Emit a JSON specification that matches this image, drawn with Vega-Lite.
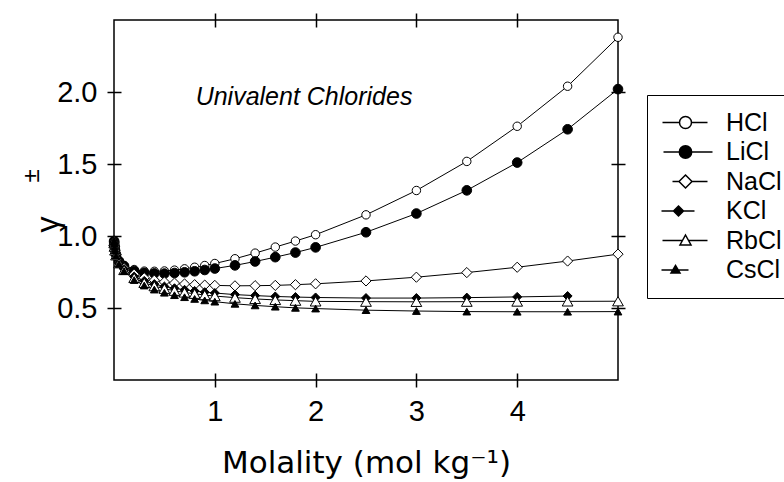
{
  "$schema": "https://vega.github.io/schema/vega-lite/v6.json",
  "autosize": {"type": "none"},
  "padding": {"left": 114, "top": 20, "right": 166, "bottom": 102},
  "width": 504,
  "height": 360,
  "background": "white",
  "config": {
    "view": {"stroke": "black", "strokeWidth": 1.5},
    "axis": {"grid": false, "domain": false, "tickColor": "black", "tickWidth": 1.5, "tickSize": 14, "offset": -7, "labelColor": "black", "titleColor": "black"}
  },
  "datasets": {
    "gamma": [
      {"s":"HCl","m":0.001,"g":0.966},{"s":"HCl","m":0.002,"g":0.952},{"s":"HCl","m":0.005,"g":0.929},{"s":"HCl","m":0.01,"g":0.905},{"s":"HCl","m":0.02,"g":0.876},{"s":"HCl","m":0.05,"g":0.830},{"s":"HCl","m":0.1,"g":0.796},{"s":"HCl","m":0.2,"g":0.767},{"s":"HCl","m":0.3,"g":0.756},{"s":"HCl","m":0.4,"g":0.755},{"s":"HCl","m":0.5,"g":0.757},{"s":"HCl","m":0.6,"g":0.763},{"s":"HCl","m":0.7,"g":0.772},{"s":"HCl","m":0.8,"g":0.783},{"s":"HCl","m":0.9,"g":0.795},{"s":"HCl","m":1.0,"g":0.809},{"s":"HCl","m":1.2,"g":0.842},{"s":"HCl","m":1.4,"g":0.881},{"s":"HCl","m":1.6,"g":0.923},{"s":"HCl","m":1.8,"g":0.965},{"s":"HCl","m":2.0,"g":1.009},{"s":"HCl","m":2.5,"g":1.147},{"s":"HCl","m":3.0,"g":1.316},{"s":"HCl","m":3.5,"g":1.518},{"s":"HCl","m":4.0,"g":1.762},{"s":"HCl","m":4.5,"g":2.04},{"s":"HCl","m":5.0,"g":2.38},
      {"s":"LiCl","m":0.001,"g":0.965},{"s":"LiCl","m":0.002,"g":0.951},{"s":"LiCl","m":0.005,"g":0.927},{"s":"LiCl","m":0.01,"g":0.902},{"s":"LiCl","m":0.02,"g":0.870},{"s":"LiCl","m":0.05,"g":0.824},{"s":"LiCl","m":0.1,"g":0.790},{"s":"LiCl","m":0.2,"g":0.757},{"s":"LiCl","m":0.3,"g":0.744},{"s":"LiCl","m":0.4,"g":0.740},{"s":"LiCl","m":0.5,"g":0.739},{"s":"LiCl","m":0.6,"g":0.743},{"s":"LiCl","m":0.7,"g":0.748},{"s":"LiCl","m":0.8,"g":0.755},{"s":"LiCl","m":0.9,"g":0.764},{"s":"LiCl","m":1.0,"g":0.774},{"s":"LiCl","m":1.2,"g":0.796},{"s":"LiCl","m":1.4,"g":0.823},{"s":"LiCl","m":1.6,"g":0.853},{"s":"LiCl","m":1.8,"g":0.885},{"s":"LiCl","m":2.0,"g":0.921},{"s":"LiCl","m":2.5,"g":1.026},{"s":"LiCl","m":3.0,"g":1.156},{"s":"LiCl","m":3.5,"g":1.317},{"s":"LiCl","m":4.0,"g":1.510},{"s":"LiCl","m":4.5,"g":1.741},{"s":"LiCl","m":5.0,"g":2.02},
      {"s":"NaCl","m":0.001,"g":0.965},{"s":"NaCl","m":0.002,"g":0.952},{"s":"NaCl","m":0.005,"g":0.927},{"s":"NaCl","m":0.01,"g":0.902},{"s":"NaCl","m":0.02,"g":0.871},{"s":"NaCl","m":0.05,"g":0.819},{"s":"NaCl","m":0.1,"g":0.778},{"s":"NaCl","m":0.2,"g":0.735},{"s":"NaCl","m":0.3,"g":0.710},{"s":"NaCl","m":0.4,"g":0.693},{"s":"NaCl","m":0.5,"g":0.681},{"s":"NaCl","m":0.6,"g":0.673},{"s":"NaCl","m":0.7,"g":0.667},{"s":"NaCl","m":0.8,"g":0.662},{"s":"NaCl","m":0.9,"g":0.659},{"s":"NaCl","m":1.0,"g":0.657},{"s":"NaCl","m":1.2,"g":0.654},{"s":"NaCl","m":1.4,"g":0.655},{"s":"NaCl","m":1.6,"g":0.657},{"s":"NaCl","m":1.8,"g":0.662},{"s":"NaCl","m":2.0,"g":0.668},{"s":"NaCl","m":2.5,"g":0.688},{"s":"NaCl","m":3.0,"g":0.714},{"s":"NaCl","m":3.5,"g":0.746},{"s":"NaCl","m":4.0,"g":0.783},{"s":"NaCl","m":4.5,"g":0.826},{"s":"NaCl","m":5.0,"g":0.874},
      {"s":"KCl","m":0.001,"g":0.965},{"s":"KCl","m":0.002,"g":0.951},{"s":"KCl","m":0.005,"g":0.927},{"s":"KCl","m":0.01,"g":0.901},{"s":"KCl","m":0.02,"g":0.868},{"s":"KCl","m":0.05,"g":0.815},{"s":"KCl","m":0.1,"g":0.770},{"s":"KCl","m":0.2,"g":0.718},{"s":"KCl","m":0.3,"g":0.688},{"s":"KCl","m":0.4,"g":0.666},{"s":"KCl","m":0.5,"g":0.649},{"s":"KCl","m":0.6,"g":0.637},{"s":"KCl","m":0.7,"g":0.626},{"s":"KCl","m":0.8,"g":0.618},{"s":"KCl","m":0.9,"g":0.610},{"s":"KCl","m":1.0,"g":0.604},{"s":"KCl","m":1.2,"g":0.593},{"s":"KCl","m":1.4,"g":0.586},{"s":"KCl","m":1.6,"g":0.580},{"s":"KCl","m":1.8,"g":0.576},{"s":"KCl","m":2.0,"g":0.573},{"s":"KCl","m":2.5,"g":0.569},{"s":"KCl","m":3.0,"g":0.569},{"s":"KCl","m":3.5,"g":0.572},{"s":"KCl","m":4.0,"g":0.577},{"s":"KCl","m":4.5,"g":0.583},
      {"s":"RbCl","m":0.001,"g":0.965},{"s":"RbCl","m":0.002,"g":0.951},{"s":"RbCl","m":0.005,"g":0.926},{"s":"RbCl","m":0.01,"g":0.900},{"s":"RbCl","m":0.02,"g":0.866},{"s":"RbCl","m":0.05,"g":0.811},{"s":"RbCl","m":0.1,"g":0.764},{"s":"RbCl","m":0.2,"g":0.709},{"s":"RbCl","m":0.3,"g":0.675},{"s":"RbCl","m":0.4,"g":0.652},{"s":"RbCl","m":0.5,"g":0.634},{"s":"RbCl","m":0.6,"g":0.620},{"s":"RbCl","m":0.7,"g":0.608},{"s":"RbCl","m":0.8,"g":0.599},{"s":"RbCl","m":0.9,"g":0.590},{"s":"RbCl","m":1.0,"g":0.583},{"s":"RbCl","m":1.2,"g":0.572},{"s":"RbCl","m":1.4,"g":0.563},{"s":"RbCl","m":1.6,"g":0.556},{"s":"RbCl","m":1.8,"g":0.551},{"s":"RbCl","m":2.0,"g":0.546},{"s":"RbCl","m":2.5,"g":0.544},{"s":"RbCl","m":3.0,"g":0.543},{"s":"RbCl","m":3.5,"g":0.544},{"s":"RbCl","m":4.0,"g":0.545},{"s":"RbCl","m":4.5,"g":0.546},{"s":"RbCl","m":5.0,"g":0.547},
      {"s":"CsCl","m":0.001,"g":0.965},{"s":"CsCl","m":0.002,"g":0.950},{"s":"CsCl","m":0.005,"g":0.925},{"s":"CsCl","m":0.01,"g":0.899},{"s":"CsCl","m":0.02,"g":0.863},{"s":"CsCl","m":0.05,"g":0.806},{"s":"CsCl","m":0.1,"g":0.756},{"s":"CsCl","m":0.2,"g":0.694},{"s":"CsCl","m":0.3,"g":0.656},{"s":"CsCl","m":0.4,"g":0.628},{"s":"CsCl","m":0.5,"g":0.606},{"s":"CsCl","m":0.6,"g":0.589},{"s":"CsCl","m":0.7,"g":0.575},{"s":"CsCl","m":0.8,"g":0.563},{"s":"CsCl","m":0.9,"g":0.553},{"s":"CsCl","m":1.0,"g":0.544},{"s":"CsCl","m":1.2,"g":0.529},{"s":"CsCl","m":1.4,"g":0.518},{"s":"CsCl","m":1.6,"g":0.509},{"s":"CsCl","m":1.8,"g":0.501},{"s":"CsCl","m":2.0,"g":0.496},{"s":"CsCl","m":2.5,"g":0.485},{"s":"CsCl","m":3.0,"g":0.479},{"s":"CsCl","m":3.5,"g":0.475},{"s":"CsCl","m":4.0,"g":0.474},{"s":"CsCl","m":4.5,"g":0.474},{"s":"CsCl","m":5.0,"g":0.475}
    ],
    "note": [{"label": "Univalent Chlorides"}]
  },
  "layer": [
    {
      "data": {"name": "gamma"},
      "mark": {"type": "line", "color": "black", "strokeWidth": 1},
      "encoding": {
        "x": {"field": "m", "type": "quantitative", "scale": {"domain": [0, 5], "nice": false, "zero": false},
          "axis": {"orient": "bottom", "values": [1, 2, 3, 4], "format": "d", "labelFont": "Liberation Sans", "labelFontSize": 29, "labelPadding": 10,
            "title": "Molality (mol kg⁻¹)", "titleFont": "DejaVu Sans", "titleFontSize": 31, "titleFontWeight": "normal", "titlePadding": 22}},
        "y": {"field": "g", "type": "quantitative", "scale": {"domain": [0, 2.5], "nice": false, "zero": false},
          "axis": {"orient": "left", "values": [0.5, 1.0, 1.5, 2.0], "format": ".1f", "labelFont": "Liberation Sans", "labelFontSize": 29, "labelPadding": 10,
            "title": "γ", "titleFont": "Liberation Sans", "titleFontSize": 32, "titleFontWeight": "normal", "titleAngle": 270, "titleAlign": "center", "titleBaseline": "middle", "titleX": -74, "titleY": 204}},
        "detail": {"field": "s"},
        "order": {"field": "m"}
      }
    },
    {
      "data": {"name": "gamma"},
      "mark": {"type": "point", "filled": true, "stroke": "black", "strokeWidth": 1, "opacity": 1},
      "encoding": {
        "x": {"field": "m", "type": "quantitative", "axis": {"orient": "top", "values": [1, 2, 3, 4], "labels": false, "title": null}},
        "y": {"field": "g", "type": "quantitative", "axis": {"orient": "right", "values": [0.5, 1.0, 1.5, 2.0], "labels": false, "title": null}},
        "shape": {"field": "s", "type": "nominal", "scale": {"range": ["triangle-up", "circle", "diamond", "circle", "diamond", "triangle-up"]}, "legend": null},
        "fill": {"field": "s", "type": "nominal", "scale": {"range": ["black", "white", "black", "black", "white", "white"]}, "legend": null},
        "size": {"field": "s", "type": "nominal", "scale": {"range": [60, 115, 110, 115, 160, 110]}, "legend": null}
      }
    },
    {
      "data": {"name": "gamma"},
      "transform": [{"filter": "datum.m < 0"}],
      "mark": {"type": "point", "filled": true, "stroke": "black", "strokeWidth": 1.2, "opacity": 1},
      "encoding": {
        "x": {"field": "m", "type": "quantitative", "axis": null},
        "y": {"field": "g", "type": "quantitative", "axis": null},
        "shape": {"field": "s", "type": "nominal", "scale": {"domain": ["HCl", "LiCl", "NaCl", "KCl", "RbCl", "CsCl"], "range": [
          "M-2.3,0H-0.6M0.6,0H2.2M0.6,0A0.6,0.6,0,1,1,-0.6,0A0.6,0.6,0,1,1,0.6,0Z",
          "M-2.2,0H2.7M0.62,0A0.62,0.62,0,1,1,-0.62,0A0.62,0.62,0,1,1,0.62,0Z",
          "M-1.3,0H-0.65M0.65,0H2.2M0,-0.65L0.65,0L0,0.65L-0.65,0Z",
          "M-2.4,0H0.9M-0.7,-0.5L-0.2,0L-0.7,0.5L-1.2,0Z",
          "M-2.3,0H-0.3M0.3,0H2.2M0,-0.55L0.55,0.45L-0.55,0.45Z",
          "M-2.4,0H0.3M-1,-0.45L-0.55,0.3L-1.45,0.3Z"
        ]},
          "legend": {"orient": "none", "legendX": 533, "legendY": 75, "title": null, "strokeColor": "black", "padding": 15, "symbolSize": 400, "symbolOffset": 11, "labelOffset": 28, "rowPadding": 3.5, "labelFont": "Liberation Sans", "labelFontSize": 25, "labelColor": "black",
            "encode": {"symbols": {"size": {"value": 400}, "opacity": {"value": 1}, "stroke": {"value": "black"}, "strokeWidth": {"value": 1.2}}}}},
        "fill": {"field": "s", "type": "nominal", "scale": {"domain": ["HCl", "LiCl", "NaCl", "KCl", "RbCl", "CsCl"], "range": ["white", "black", "white", "black", "white", "black"]},
          "legend": {"orient": "none", "legendX": 533, "legendY": 75, "title": null, "strokeColor": "black", "padding": 15, "symbolSize": 400, "symbolOffset": 11, "labelOffset": 28, "rowPadding": 3.5, "labelFont": "Liberation Sans", "labelFontSize": 25, "labelColor": "black",
            "encode": {"symbols": {"size": {"value": 400}, "opacity": {"value": 1}, "stroke": {"value": "black"}, "strokeWidth": {"value": 1.2}}}}}
      }
    },
    {
      "data": {"name": "note"},
      "mark": {"type": "text", "font": "Liberation Sans", "fontStyle": "italic", "fontSize": 25, "align": "left", "baseline": "alphabetic", "color": "black"},
      "encoding": {"text": {"field": "label"}, "x": {"datum": 0.81, "axis": null}, "y": {"datum": 1.91, "axis": null}}
    },
    {
      "data": {"values": [{"label": "±"}]},
      "mark": {"type": "text", "font": "Liberation Sans", "fontSize": 24, "angle": 270, "align": "center", "baseline": "middle", "color": "black"},
      "encoding": {"text": {"field": "label"}, "x": {"datum": -0.81, "axis": null}, "y": {"datum": 1.417, "axis": null}}
    }
  ],
  "resolve": {
    "axis": {"x": "independent", "y": "independent"},
    "scale": {"shape": "independent", "fill": "independent"}
  }
}
